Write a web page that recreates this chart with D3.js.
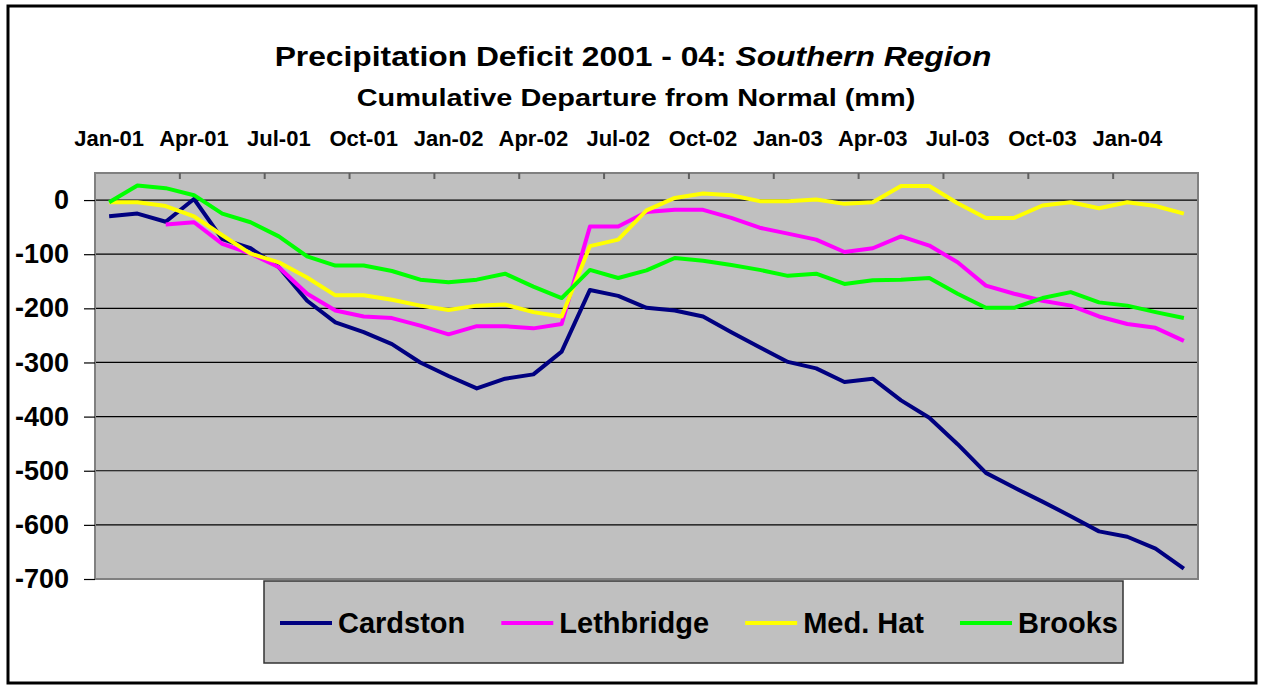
<!DOCTYPE html>
<html>
<head>
<meta charset="utf-8">
<script src="https://cdn.jsdelivr.net/npm/d3@7"></script>
<style>
  body { margin: 0; background: #fff; }
  text { font-family: "Liberation Sans", Arial, sans-serif; font-weight: bold; }
</style>
</head>
<body>
<div id="chart"></div>
<script>
// Months on the category axis (Jan-01 .. Mar-04)
const months = ["Jan-01","Feb-01","Mar-01","Apr-01","May-01","Jun-01","Jul-01","Aug-01","Sep-01","Oct-01","Nov-01","Dec-01",
    "Jan-02","Feb-02","Mar-02","Apr-02","May-02","Jun-02","Jul-02","Aug-02","Sep-02","Oct-02","Nov-02","Dec-02",
    "Jan-03","Feb-03","Mar-03","Apr-03","May-03","Jun-03","Jul-03","Aug-03","Sep-03","Oct-03","Nov-03","Dec-03",
    "Jan-04","Feb-04","Mar-04"];
const tickLabels = ["Jan-01","Apr-01","Jul-01","Oct-01","Jan-02","Apr-02","Jul-02","Oct-02","Jan-03","Apr-03","Jul-03","Oct-03","Jan-04"];
const yTicks = [0, -100, -200, -300, -400, -500, -600, -700];

// Cumulative departure from normal (mm)
const cardston = [-30,-25,-40,2,-72,-89,-124,-186,-226,-244,-266,-300,-325,-348,-330,-322,-280,-166,-177,-199,-204,-215,-244,-272,-299,-311,-336,-330,-370,-402,-451,-504,-531,-557,-584,-612,-622,-644,-681];
const lethbridge = [null,null,-45,-41,-81,-99,-124,-173,-204,-215,-218,-232,-248,-233,-233,-237,-229,-49,-49,-22,-18,-18,-33,-51,-62,-73,-96,-89,-67,-84,-115,-158,-173,-186,-195,-215,-229,-236,-260];
const medHat = [-4,-4,-11,-30,-65,-99,-115,-143,-176,-176,-184,-195,-203,-195,-193,-207,-215,-85,-73,-19,4,12,9,-2,-2,1,-7,-4,26,26,-6,-33,-33,-10,-4,-15,-4,-11,-25];
const brooks = [-4,27,22,9,-25,-41,-67,-104,-121,-121,-131,-147,-152,-147,-136,-160,-181,-129,-144,-130,-107,-112,-120,-129,-140,-136,-155,-148,-147,-144,-173,-199,-199,-181,-170,-189,-195,-207,-218];

const seriesNames = ["Cardston", "Lethbridge", "Med. Hat", "Brooks"];
const seriesColors = ["#000080", "#FF00FF", "#FFFF00", "#00FF00"];
const series = [cardston, lethbridge, medHat, brooks];

const W = 1263, H = 688;
const plot = {left: 95, right: 1198, top: 173, bottom: 579};

const svg = d3.select("#chart").append("svg")
    .attr("width", W)
    .attr("height", H);

// outer frame
svg.append("rect")
    .attr("x", 8).attr("y", 6)
    .attr("width", 1248).attr("height", 677)
    .attr("fill", "#fff")
    .attr("stroke", "#000")
    .attr("stroke-width", 3);

// scales
const x = d3.scaleBand()
    .domain(months)
    .range([plot.left, plot.right])
    .padding(0);
const y = d3.scaleLinear()
    .domain([-700, 50])
    .range([plot.bottom, plot.top]);

// plot area
svg.append("rect")
    .attr("x", plot.left).attr("y", plot.top)
    .attr("width", plot.right - plot.left)
    .attr("height", plot.bottom - plot.top)
    .attr("fill", "#C0C0C0");

// gridlines
svg.append("g")
    .selectAll("line")
    .data(yTicks.filter(d => d > -700))
    .join("line")
        .attr("x1", plot.left).attr("x2", plot.right)
        .attr("y1", d => y(d)).attr("y2", d => y(d))
        .attr("stroke", "#000")
        .attr("stroke-width", 1.2);

// plot border
svg.append("rect")
    .attr("x", plot.left).attr("y", plot.top)
    .attr("width", plot.right - plot.left)
    .attr("height", plot.bottom - plot.top)
    .attr("fill", "none")
    .attr("stroke", "#808080")
    .attr("stroke-width", 2);

// Y axis
const yAxis = svg.append("g")
    .attr("transform", `translate(${plot.left},0)`)
    .call(d3.axisLeft(y).tickValues(yTicks).tickSize(11).tickPadding(15).tickFormat(d3.format("d")));
yAxis.select(".domain").remove();
yAxis.selectAll(".tick line").attr("stroke", "#000").attr("stroke-width", 1.2);
yAxis.selectAll(".tick text")
    .style("font-size", "27px")
    .attr("fill", "#000")
    .text(d => d === 0 ? "0" : "-" + Math.abs(d));

// X axis (labels across the top, ticks at category boundaries)
const xAxis = svg.append("g")
    .attr("transform", `translate(0,${plot.top})`)
    .call(d3.axisTop(x).tickValues(tickLabels).tickSize(0).tickPadding(27));
xAxis.select(".domain").remove();
xAxis.selectAll(".tick text")
    .style("font-size", "22px")
    .attr("fill", "#000");

svg.append("g")
    .selectAll("line")
    .data(d3.range(3, months.length, 3))
    .join("line")
        .attr("x1", i => x(months[i])).attr("x2", i => x(months[i]))
        .attr("y1", plot.top).attr("y2", plot.top + 6)
        .attr("stroke", "#606060")
        .attr("stroke-width", 2);

// lines
const line = d3.line()
    .defined(d => d != null)
    .x((d, i) => x(months[i]) + x.bandwidth() / 2)
    .y(d => y(d));

series.forEach(function(vals, k) {
    svg.append("path")
        .datum(vals)
        .attr("fill", "none")
        .attr("stroke", seriesColors[k])
        .attr("stroke-width", 4)
        .attr("stroke-linejoin", "round")
        .attr("d", line);
});

// titles, stretched to the width they take in the original
function stretched(sel, cx, cy, target) {
    const w = sel.node().getComputedTextLength();
    sel.attr("text-anchor", "middle")
        .attr("transform", `translate(${cx},${cy}) scale(${target / w},1)`);
}

const title = svg.append("text").style("font-size", "28px");
title.append("tspan").text("Precipitation Deficit 2001 - 04: ");
title.append("tspan").style("font-style", "italic").text("Southern Region");
stretched(title, 633, 66, 717);

const subtitle = svg.append("text").style("font-size", "23px")
    .text("Cumulative Departure from Normal (mm)");
stretched(subtitle, 636, 106, 559);

// legend
const legend = svg.append("g");
legend.append("rect")
    .attr("x", 264).attr("y", 581)
    .attr("width", 859).attr("height", 82)
    .attr("fill", "#C0C0C0")
    .attr("stroke", "#333")
    .attr("stroke-width", 1.5);

let lx = 280;
seriesNames.forEach(function(name, k) {
    legend.append("line")
        .attr("x1", lx).attr("x2", lx + 52)
        .attr("y1", 623).attr("y2", 623)
        .attr("stroke", seriesColors[k])
        .attr("stroke-width", 4);
    const t = legend.append("text")
        .attr("x", lx + 58).attr("y", 633)
        .style("font-size", "29px")
        .attr("fill", "#000")
        .text(name);
    lx += 58 + t.node().getComputedTextLength() + 36;
});
</script>
</body>
</html>
